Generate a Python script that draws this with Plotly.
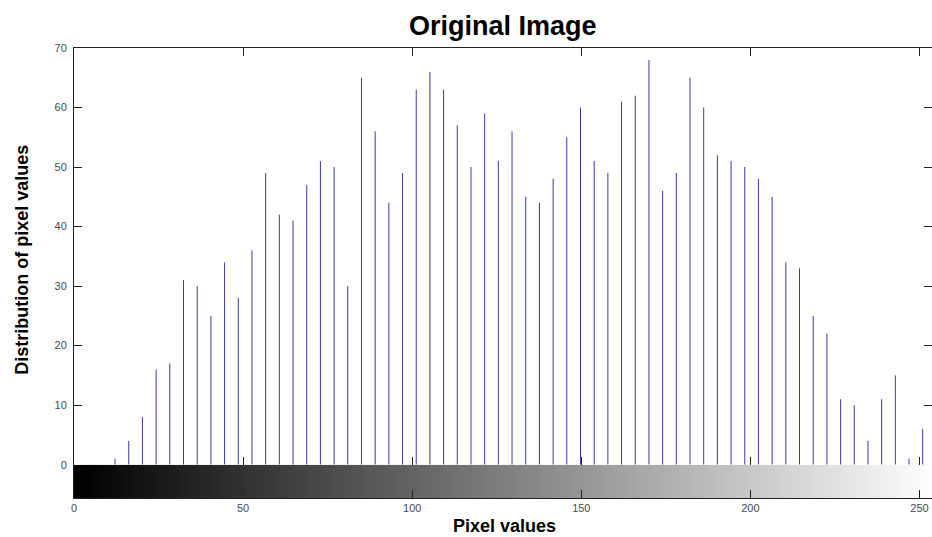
import plotly.graph_objects as go

# Histogram bin centres (imhist, 64 bins over 0..255) and counts
bin_centers = [0.00, 4.05, 8.10, 12.14, 16.19, 20.24, 24.29, 28.33, 32.38, 36.43,
               40.48, 44.52, 48.57, 52.62, 56.67, 60.71, 64.76, 68.81, 72.86, 76.90,
               80.95, 85.00, 89.05, 93.10, 97.14, 101.19, 105.24, 109.29, 113.33, 117.38,
               121.43, 125.48, 129.52, 133.57, 137.62, 141.67, 145.71, 149.76, 153.81, 157.86,
               161.90, 165.95, 170.00, 174.05, 178.10, 182.14, 186.19, 190.24, 194.29, 198.33,
               202.38, 206.43, 210.48, 214.52, 218.57, 222.62, 226.67, 230.71, 234.76, 238.81,
               242.86, 246.90, 250.95]
counts = [0, 0, 0, 1, 4, 8, 16, 17, 31, 30,
          25, 34, 28, 36, 49, 42, 41, 47, 51, 50,
          30, 65, 56, 44, 49, 63, 66, 63, 57, 50,
          59, 51, 56, 45, 44, 48, 55, 60, 51, 49,
          61, 62, 68, 46, 49, 65, 60, 52, 51, 50,
          48, 45, 34, 33, 25, 22, 11, 10, 4, 11,
          15, 1, 6]
x_ticks = [0, 50, 100, 150, 200, 250]
y_ticks = [0, 10, 20, 30, 40, 50, 60, 70]
gray_range = [0, 255]

title_text = "Original Image"
xlabel = "Pixel values"
ylabel = "Distribution of pixel values"

FONT = "Liberation Sans, Arial, sans-serif"
AXC = "#222222"
TICKC = "#4a4a4a"

# stems
sx, sy = [], []
for b, c in zip(bin_centers, counts):
    if c > 0:
        sx += [b, b, None]
        sy += [0, c, None]

fig = go.Figure()
fig.add_trace(go.Scatter(x=sx, y=sy, mode="lines", xaxis="x", yaxis="y",
                         line=dict(color="#3a3aa6", width=1),
                         hoverinfo="skip", showlegend=False))

# gray-level ramp bar
g0, g1 = gray_range
fig.add_trace(go.Scatter(x=[g0, g1, g1, g0, g0], y=[0, 0, 1, 1, 0],
                         mode="lines", fill="toself", xaxis="x2", yaxis="y2",
                         line=dict(width=0),
                         fillgradient=dict(type="horizontal",
                                           colorscale=[[0, "#000000"], [1, "#ffffff"]]),
                         hoverinfo="skip", showlegend=False))

W, H = 932, 537
L, R, T, B = 74, 0, 48, 39
ph = H - T - B
split = (498 - 464.7) / ph

xr = [0, (W - L - R) / ((919.5 - 74) / 250)]

fig.update_layout(
    width=W, height=H,
    margin=dict(l=L, r=R, t=T, b=B),
    paper_bgcolor="white", plot_bgcolor="white",
    font=dict(family=FONT, size=11, color=TICKC),
    showlegend=False,
    xaxis=dict(anchor="y", range=xr, tickvals=x_ticks, showticklabels=False,
               ticks="inside", ticklen=8, tickcolor=AXC, showline=True,
               linecolor=AXC, linewidth=1, mirror="ticks", showgrid=False,
               zeroline=False),
    xaxis2=dict(anchor="y2", range=xr, matches="x", tickvals=x_ticks,
                ticktext=[str(v) for v in x_ticks], ticks="inside", ticklen=8,
                tickcolor=AXC, showline=True, linecolor=AXC, linewidth=1,
                showgrid=False, zeroline=False,
                tickfont=dict(family=FONT, size=11, color=TICKC)),
    yaxis=dict(domain=[split, 1], range=[0, 70], tickvals=y_ticks,
               ticks="inside", ticklen=8, tickcolor=AXC, showline=True,
               linecolor=AXC, linewidth=1, mirror="ticks", showgrid=False,
               zeroline=False, ticklabelstandoff=4,
               tickfont=dict(family=FONT, size=11, color=TICKC)),
    yaxis2=dict(domain=[0, split], range=[0, 1], showticklabels=False,
                ticks="", showline=True, linecolor=AXC, linewidth=1,
                mirror=True, showgrid=False, zeroline=False),
    annotations=[
        dict(text="<b>" + title_text + "</b>", xref="paper", yref="paper",
             x=0.5, y=1 + (T - 26) / ph, xanchor="center", yanchor="middle",
             showarrow=False, font=dict(family=FONT, size=27, color="#000000")),
        dict(text="<b>" + xlabel + "</b>", xref="paper", yref="paper",
             x=(504.5 - L) / (W - L - R), y=-(526 - 498) / ph,
             xanchor="center", yanchor="middle", showarrow=False,
             font=dict(family=FONT, size=18, color="#000000")),
        dict(text="<b>" + ylabel + "</b>", xref="paper", yref="paper",
             x=-(L - 22) / (W - L - R), y=(498 - 259.7) / ph, textangle=-90,
             xanchor="center", yanchor="middle", showarrow=False,
             font=dict(family=FONT, size=18, color="#000000")),
    ],
)

fig.write_html("out.html")
